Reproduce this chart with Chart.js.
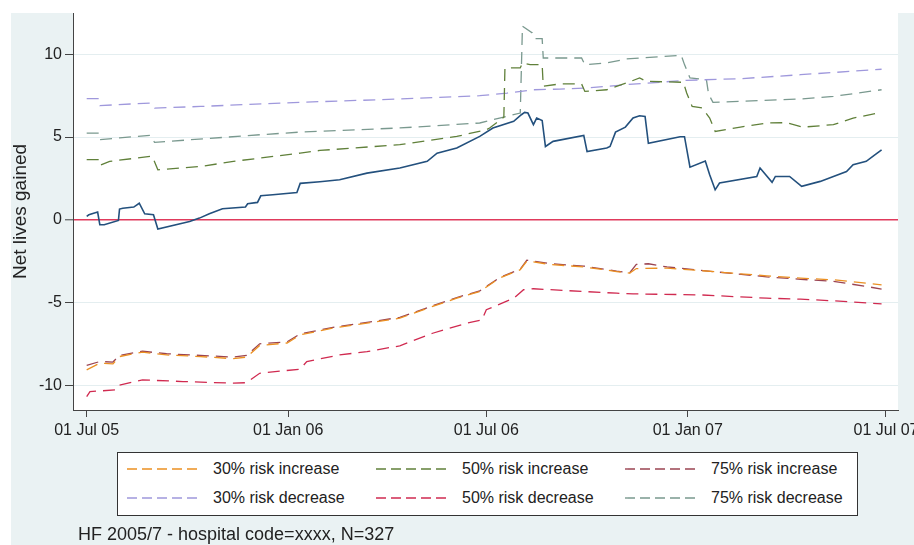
<!DOCTYPE html>
<html>
<head>
<meta charset="utf-8">
<script src="https://cdn.jsdelivr.net/npm/chart.js@4.4.1/dist/chart.umd.min.js"></script>
<style>
  html, body { margin: 0; padding: 0; background: #fff; }
  #wrap { position: relative; width: 914px; height: 545px; overflow: hidden; font-family: 'Liberation Sans', Arial, sans-serif; }
  #legend { position: absolute; left: 117px; top: 452px; width: 739px; height: 62px; background: #fff; border: 1px solid #333; }
  #legend .item { position: absolute; display: flex; align-items: center; font-size: 16px; color: #222; white-space: nowrap; height: 20px; }
  #legend svg { margin-right: 12px; }
  #note { position: absolute; left: 78px; top: 524px; font-size: 18px; color: #222; }
</style>
</head>
<body>
<div id="wrap">
  <canvas id="chart" width="914" height="545"></canvas>
  <div id="legend"></div>
  <div id="note">HF 2005/7 - hospital code=xxxx, N=327</div>
</div>
<script>
// x values are days since 01 Jul 2005
const xTickDays = [0, 184, 365, 549, 730];
const xTickLabels = ['01 Jul 05', '01 Jan 06', '01 Jul 06', '01 Jan 07', '01 Jul 07'];
const yTickValues = [-10, -5, 0, 5, 10];

// observed net lives gained (solid)
const obsDays = [0, 2, 10, 12, 16, 29, 30, 33, 43, 48, 53, 61, 65, 94, 103, 112, 124, 145, 147, 156,
  159, 170, 192, 195, 213, 231, 256, 286, 311, 320, 338, 359, 371, 390, 397, 400, 403, 408, 411, 416,
  419, 426, 454, 457, 475, 478, 483, 492, 499, 505, 510, 513, 542, 546, 551, 565, 569, 574, 578, 612,
  615, 626, 629, 642, 653, 670, 682, 694, 700, 712, 718, 726];
const obsVals = [0.2, 0.3, 0.47, -0.3, -0.3, -0.04, 0.65, 0.7, 0.77, 1.0, 0.36, 0.3, -0.56, -0.1, 0.1, 0.36, 0.67, 0.77, 0.97, 1.05,
  1.45, 1.51, 1.65, 2.2, 2.3, 2.42, 2.82, 3.13, 3.53, 4.03, 4.34, 5.04, 5.55, 5.95, 6.35, 6.49, 6.45, 5.75, 6.15, 6.0,
  4.43, 4.74, 5.1, 4.13, 4.34, 4.43, 5.3, 5.6, 6.15, 6.29, 6.25, 4.62, 5.02, 5.02, 3.18, 3.55, 2.72, 1.81, 2.22, 2.62,
  3.13, 2.26, 2.62, 2.62, 2.02, 2.32, 2.62, 2.92, 3.33, 3.53, 3.83, 4.23];

// 30% risk increase
const inc30Days = [0, 12, 24, 30, 51, 73, 104, 134, 146, 158, 183, 195, 225, 256, 286, 316, 338, 359, 377, 396,
  402, 408, 423, 454, 484, 496, 502, 530, 560, 590, 621, 652, 682, 726];
const inc30Vals = [-9.07, -8.67, -8.71, -8.27, -8.0, -8.17, -8.27, -8.4, -8.3, -7.6, -7.45, -6.96, -6.55, -6.25, -5.95, -5.24, -4.74, -4.34, -3.53, -3.02,
  -2.5, -2.55, -2.7, -2.85, -3.13, -3.22, -2.95, -2.92, -3.07, -3.23, -3.39, -3.53, -3.63, -3.93];

// 50% risk increase
const inc50Days = [0, 11, 12, 21, 58, 60, 65, 104, 134, 195, 213, 286, 338, 365, 368, 381, 382, 396, 398, 405,
  416, 417, 432, 452, 455, 475, 493, 505, 511, 545, 548, 553, 562, 569, 574, 597, 621, 639, 654, 682, 700, 726];
const inc50Vals = [3.63, 3.63, 3.29, 3.53, 3.83, 3.83, 3.02, 3.22, 3.53, 4.03, 4.19, 4.54, 5.04, 5.44, 5.55, 6.2, 9.18, 9.18, 9.48, 9.38,
  9.38, 8.07, 8.21, 8.21, 7.76, 7.86, 8.27, 8.57, 8.37, 8.31, 7.66, 6.85, 6.76, 6.15, 5.34, 5.6, 5.85, 5.87, 5.6, 5.75, 6.15, 6.49];

// 75% risk increase
const inc75Days = [0, 12, 24, 30, 51, 73, 104, 134, 146, 158, 183, 195, 225, 256, 286, 316, 338, 359, 377, 396,
  402, 408, 423, 454, 484, 496, 502, 513, 530, 560, 590, 621, 652, 682, 712, 726];
const inc75Vals = [-8.8, -8.57, -8.6, -8.2, -7.95, -8.1, -8.2, -8.3, -8.2, -7.5, -7.38, -6.9, -6.5, -6.2, -5.9, -5.2, -4.7, -4.3, -3.5, -2.98,
  -2.45, -2.5, -2.65, -2.8, -3.1, -3.2, -2.7, -2.66, -2.85, -3.05, -3.25, -3.45, -3.6, -3.72, -4.03, -4.19];

// 30% risk decrease
const dec30Days = [0, 11, 12, 40, 58, 62, 104, 195, 286, 359, 384, 408, 432, 457, 493, 548, 597, 652, 697, 726];
const dec30Vals = [7.32, 7.32, 6.9, 7.0, 7.05, 6.75, 6.85, 7.1, 7.3, 7.5, 7.66, 7.86, 7.9, 7.97, 8.17, 8.43, 8.53, 8.77, 8.97, 9.1];

// 50% risk decrease
const dec50Days = [0, 3, 27, 30, 51, 88, 134, 146, 158, 195, 201, 231, 256, 286, 316, 347, 361, 365, 390, 399,
  408, 438, 484, 499, 560, 621, 652, 682, 726];
const dec50Vals = [-10.69, -10.39, -10.28, -10.0, -9.68, -9.78, -9.88, -9.85, -9.28, -9.03, -8.57, -8.17, -7.97, -7.62, -6.86, -6.25, -6.05, -5.44, -4.74, -4.23,
  -4.17, -4.28, -4.44, -4.48, -4.54, -4.74, -4.8, -4.9, -5.08];

// 75% risk decrease
const dec75Days = [0, 11, 12, 30, 58, 62, 158, 195, 286, 359, 377, 396, 398, 407, 409, 416, 417, 452, 455, 475,
  493, 543, 546, 551, 566, 568, 572, 597, 652, 682, 726];
const dec75Vals = [5.24, 5.24, 4.84, 4.95, 5.1, 4.68, 5.14, 5.3, 5.55, 5.85, 6.15, 6.45, 11.7, 11.3, 10.95, 10.95, 9.78, 9.78, 9.38, 9.48,
  9.72, 9.94, 9.38, 8.57, 8.47, 7.6, 7.1, 7.16, 7.3, 7.46, 7.86];

const pts = (days, vals) => days.map((d, i) => ({ x: d, y: vals[i] }));

const dashed = (label, days, vals, color) => ({
  label, data: pts(days, vals), borderColor: color, backgroundColor: color,
  borderWidth: 1.3, borderDash: [12, 7], pointRadius: 0, tension: 0, fill: false,
});

const datasets = [
  { label: 'Observed', data: pts(obsDays, obsVals), borderColor: '#23507d', borderWidth: 1.6,
    pointRadius: 0, tension: 0, fill: false, inLegend: false },
  dashed('30% risk increase', inc30Days, inc30Vals, '#eb9022'),
  dashed('50% risk increase', inc50Days, inc50Vals, '#60803a'),
  dashed('75% risk increase', inc75Days, inc75Vals, '#9b4452'),
  dashed('30% risk decrease', dec30Days, dec30Vals, '#9f98dc'),
  dashed('50% risk decrease', dec50Days, dec50Vals, '#d02a50'),
  dashed('75% risk decrease', dec75Days, dec75Vals, '#7a998f'),
];

const backdrop = {
  id: 'backdrop',
  beforeDraw(chart) {
    const { ctx, chartArea: a, width, height } = chart;
    ctx.save();
    ctx.fillStyle = '#fff';
    ctx.fillRect(0, 0, width, height);
    ctx.fillStyle = '#eaf2f3';
    ctx.fillRect(11, 13, width - 11, height - 13);
    ctx.fillStyle = '#fff';
    ctx.fillRect(a.left, a.top, a.right - a.left, a.bottom - a.top);
    ctx.restore();
  }
};

// legend in a framed box, 3 columns x 2 rows, like the original
const htmlLegend = {
  id: 'htmlLegend',
  afterUpdate(chart) {
    const box = document.getElementById('legend');
    box.innerHTML = '';
    chart.data.datasets.filter(ds => ds.inLegend !== false).forEach((ds, i) => {
      const col = i % 3, row = Math.floor(i / 3);
      const item = document.createElement('div');
      item.className = 'item';
      item.style.left = (9 + col * 249) + 'px';
      item.style.top = (6 + row * 29) + 'px';
      item.innerHTML = '<svg width="74" height="4"><line x1="0" y1="2" x2="74" y2="2" stroke="' + ds.borderColor +
        '" stroke-width="1.4" stroke-dasharray="10 5"/></svg>';
      const txt = document.createElement('span');
      txt.textContent = ds.label;
      item.appendChild(txt);
      box.appendChild(item);
    });
  }
};

Chart.defaults.font.family = "'Liberation Sans', Arial, sans-serif";
Chart.defaults.color = '#222';

new Chart(document.getElementById('chart'), {
  type: 'line',
  data: { datasets },
  plugins: [backdrop, htmlLegend],
  options: {
    responsive: false,
    animation: false,
    layout: { padding: { left: 11, top: 13, right: 16, bottom: 0 } },
    plugins: { legend: { display: false }, tooltip: { enabled: false } },
    scales: {
      x: {
        type: 'linear', min: -12.5, max: 741,
        afterBuildTicks: s => { s.ticks = xTickDays.map(v => ({ value: v })); },
        afterFit: s => { s.height = 135; s.paddingLeft = 0; s.paddingRight = 0; },
        ticks: { callback: (v, i) => xTickLabels[i], font: { size: 16 }, padding: 4, maxRotation: 0, autoSkip: false },
        grid: { drawOnChartArea: false, tickLength: 7, tickColor: '#444', tickWidth: 1 },
        border: { color: '#444', width: 1 },
      },
      y: {
        min: -11.5, max: 12.5,
        afterBuildTicks: s => { s.ticks = yTickValues.map(v => ({ value: v })); },
        afterFit: s => { s.width = 62; },
        ticks: { font: { size: 16 }, padding: 3 },
        grid: {
          color: c => c.tick && c.tick.value === 0 ? '#e03a5c' : '#e4eef0',
          lineWidth: c => c.tick && c.tick.value === 0 ? 1.6 : 1,
          tickColor: '#444', tickWidth: 1, tickLength: 8,
        },
        border: { color: '#444', width: 1 },
        title: { display: true, text: 'Net lives gained', font: { size: 19 }, padding: { top: -2, bottom: 0 } },
      },
    },
  },
});
</script>
</body>
</html>
